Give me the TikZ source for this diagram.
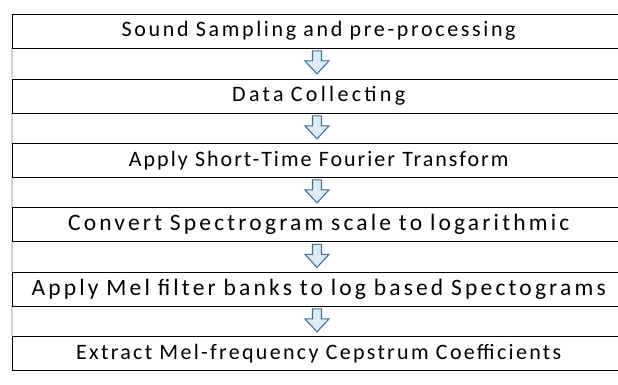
\documentclass[tikz,border=0pt]{standalone}
\usepackage{fontspec}
\setmainfont{Carlito}
\usetikzlibrary{calc}
\definecolor{arrowfill}{HTML}{DDEBF7}
\definecolor{arrowline}{HTML}{41719C}
\definecolor{rowedge}{HTML}{D4D4D4}
\tikzset{
  x=1pt, y=-1pt,
  stepbox/.style={draw=black, line width=1.4pt, minimum height=34pt,
    minimum width=612pt, anchor=north west, inner sep=0pt,
    text width=610pt, align=center, font=\fontsize{22}{24}\selectfont},
  bigtext/.style={font=\fontsize{23.5}{25}\selectfont},
  flowarrow/.style={draw=arrowline, fill=arrowfill, line width=1.1pt,
    line join=miter},
  rowedge/.style={draw=rowedge, line width=1.4pt}
}
% tracked text for a step label
\newcommand\tracked[2]{\addfontfeature{LetterSpace=#1}#2}
% hollow block arrow pointing down, hanging from the given point
\newcommand\downblock[1]{%
  \path[flowarrow] ($(#1)+(-4.5,0)$) -- ++(0,10) -- ++(-7.5,0) -- ++(12,13)
    -- ++(12,-13) -- ++(-7.5,0) -- ++(0,-10) -- cycle;}
\begin{document}
\begin{tikzpicture}
\useasboundingbox (0,0) rectangle (618,384);
\clip (0,0) rectangle (618,384);
% light left edges of the arrow rows
\foreach \t/\b in {48/78, 113/143, 176/207, 240/272, 305/336}
  \draw[rowedge] (12,\t) -- (12,\b);
% process steps
\node[stepbox] (s1) at (12,13.5) {\tracked{12}{Sound Sampling and pre-processing}};
\node[stepbox] (s2) at (12,78.5) {\tracked{15}{Data Collecting}};
\node[stepbox] (s3) at (12,142.5) {\tracked{9}{Apply Short-Time Fourier Transform}};
\node[stepbox, bigtext] (s4) at (12,207) {\tracked{13.5}{Convert Spectrogram scale to logarithmic}};
\node[stepbox, bigtext] (s5) at (12,271.5) {\tracked{13.5}{Apply Mel filter banks to log based Spectograms}};
\node[stepbox] (s6) at (12,336) {\tracked{10.5}{Extract Mel-frequency Cepstrum Coefficients}};
% arrows between steps
\foreach \a in {s1, s2, s3, s4, s5} {
  \coordinate (top-\a) at ($(\a.south west)+(305,2)$);
  \downblock{top-\a}
}
\end{tikzpicture}
\end{document}
